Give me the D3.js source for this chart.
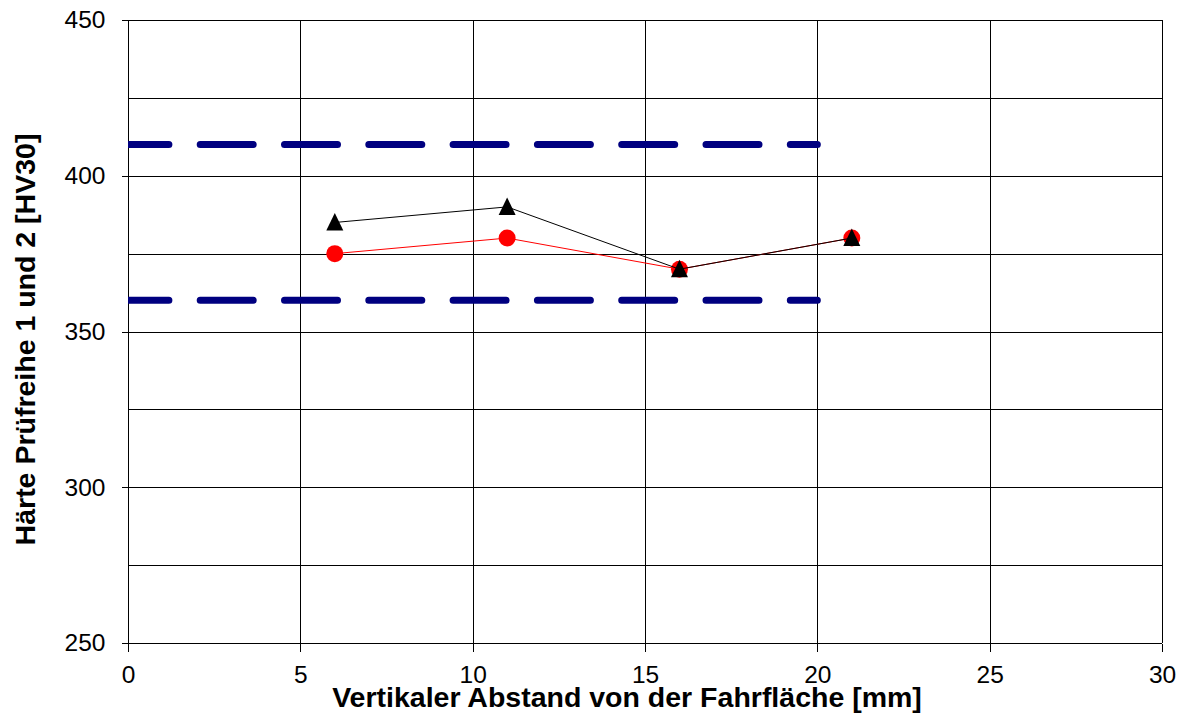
<!DOCTYPE html>
<html>
<head>
<meta charset="utf-8">
<script src="https://cdn.jsdelivr.net/npm/d3@7/dist/d3.min.js"></script>
<style>
  body { margin: 0; background: #fff; }
  svg { display: block; font-family: "Liberation Sans", Arial, sans-serif; }
</style>
</head>
<body>
<svg id="chart" width="1182" height="715"></svg>
<script>
// Hardness test series 1 and 2 versus vertical distance from the running surface
const distances = [6, 11, 16, 21];
const series1 = [375, 380, 370, 380];   // red circles
const series2 = [385, 390, 370, 380];   // black triangles
const limitUpper = 410;
const limitLower = 360;
const limitRange = [0, 20];
const xTicks = [0, 5, 10, 15, 20, 25, 30];
const yTicks = [250, 300, 350, 400, 450];
const yGrid = [250, 275, 300, 325, 350, 375, 400, 425, 450];
const xTitle = "Vertikaler Abstand von der Fahrfläche [mm]";
const yTitle = "Härte Prüfreihe 1 und 2 [HV30]";

const svg = d3.select("#chart");
const plotL = 128, plotR = 1162, plotT = 20, plotB = 643;

const x = d3.scaleLinear().domain([0, 30]).range([plotL, plotR]);
const y = d3.scaleLinear().domain([250, 450]).range([plotB, plotT]);

svg.append("defs").append("clipPath").attr("id", "plot")
  .append("rect").attr("x", plotL).attr("y", plotT)
  .attr("width", plotR - plotL).attr("height", plotB - plotT);

// grid
const grid = svg.append("g").attr("stroke", "#000").attr("stroke-width", 1).attr("shape-rendering", "crispEdges");
grid.selectAll("line.h").data(yGrid).join("line")
  .attr("x1", plotL).attr("x2", plotR)
  .attr("y1", d => Math.round(y(d)) + 0.5).attr("y2", d => Math.round(y(d)) + 0.5);
grid.selectAll("line.v").data(xTicks).join("line")
  .attr("y1", plotT).attr("y2", plotB)
  .attr("x1", d => Math.round(x(d)) + 0.5).attr("x2", d => Math.round(x(d)) + 0.5);

// axes
const yAxis = svg.append("g").attr("transform", `translate(${plotL + 0.5},0)`)
  .call(d3.axisLeft(y).tickValues(yTicks).tickSize(7).tickPadding(16));
const xAxis = svg.append("g").attr("transform", `translate(0,${plotB + 0.5})`)
  .call(d3.axisBottom(x).tickValues(xTicks).tickSize(8).tickPadding(14));
[yAxis, xAxis].forEach(a => {
  a.select(".domain").remove();
  a.selectAll("line").attr("stroke", "#000").attr("shape-rendering", "crispEdges");
  a.selectAll("text").attr("font-size", 24.5).attr("fill", "#000")
    .attr("font-family", "'Liberation Sans', Arial, sans-serif");
});

// limit lines
const plot = svg.append("g").attr("clip-path", "url(#plot)");
plot.selectAll("line.limit").data([limitUpper, limitLower]).join("line")
  .attr("x1", x(limitRange[0])).attr("x2", x(limitRange[1]))
  .attr("y1", d => y(d)).attr("y2", d => y(d))
  .attr("stroke", "#000080").attr("stroke-width", 7)
  .attr("stroke-linecap", "round")
  .attr("stroke-dasharray", "53 31.3")
  .attr("stroke-dashoffset", 12.1);

const line = d3.line().x(d => x(d[0])).y(d => y(d[1]));
const pts1 = distances.map((d, i) => [d, series1[i]]);
const pts2 = distances.map((d, i) => [d, series2[i]]);

plot.append("path").datum(pts1).attr("d", line)
  .attr("fill", "none").attr("stroke", "#ff0000").attr("stroke-width", 1);
plot.selectAll("circle.s1").data(pts1).join("circle")
  .attr("cx", d => x(d[0])).attr("cy", d => y(d[1])).attr("r", 8.5)
  .attr("fill", "#ff0000");

plot.append("path").datum(pts2).attr("d", line)
  .attr("fill", "none").attr("stroke", "#000").attr("stroke-width", 1);

// triangle marker, slightly taller than wide
const triangleMarker = {
  draw(ctx) {
    ctx.moveTo(0, -9.5);
    ctx.lineTo(8.5, 8);
    ctx.lineTo(-8.5, 8);
    ctx.closePath();
  }
};
const tri = d3.symbol().type(triangleMarker);
plot.selectAll("path.s2").data(pts2).join("path")
  .attr("transform", d => `translate(${x(d[0])},${y(d[1])})`)
  .attr("d", tri).attr("fill", "#000");

// axis titles
svg.append("text").attr("x", 627).attr("y", 707)
  .attr("text-anchor", "middle").attr("font-size", 28.5).attr("font-weight", "bold")
  .text(xTitle);
svg.append("text").attr("transform", "translate(35,339.5) rotate(-90)")
  .attr("text-anchor", "middle").attr("font-size", 28.5).attr("font-weight", "bold")
  .text(yTitle);
</script>
</body>
</html>
